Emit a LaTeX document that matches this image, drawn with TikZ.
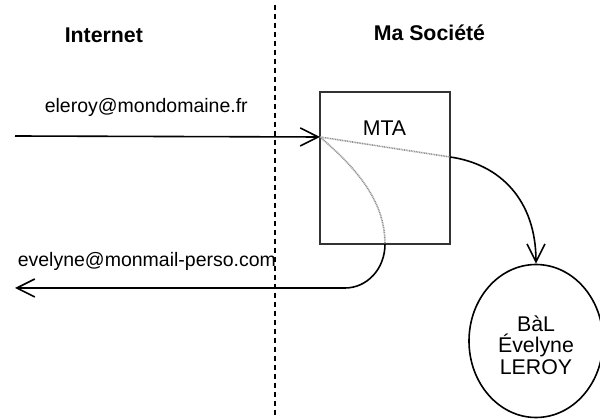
\documentclass[tikz,border=0pt]{standalone}
\usepackage{fontspec}
\setmainfont{Liberation Sans}
\usetikzlibrary{arrows.meta,shapes.geometric}
\begin{document}
\begin{tikzpicture}[x=1pt,y=-1pt,line width=1.6pt,
  head/.style={font=\fontsize{21.3}{25}\selectfont\bfseries,inner sep=0,anchor=base west},
  addr/.style={font=\fontsize{19.5}{23}\selectfont,inner sep=0,anchor=base west},
  body/.style={font=\fontsize{21.3}{21.3}\selectfont,inner sep=0},
  tip/.style={-{Straight Barb[length=18pt,width=18pt]}},
  ghost/.style={draw=gray!85,dash pattern=on 1pt off 0.7pt},
  boxstyle/.style={draw=black!80,rectangle,minimum width=130pt,minimum height=152pt,inner sep=0},
  ellstyle/.style={draw=black,ellipse,minimum width=134pt,minimum height=153pt,inner sep=0},
  border/.style={dash pattern=on 5pt off 4pt,line width=1.8pt}]
\useasboundingbox (0,0) rectangle (600,419);
% headings
\node[head] (internet) at (64,43) {Internet};
\node[head] (societe) at (373,41) {Ma Société};
% border line
\coordinate (btop) at (275,5);
\coordinate (bbot) at (275,419);
\draw[border] (btop) -- (bbot);
% MTA box
\node[boxstyle] (mta) at (385,168) {};
\node[body,anchor=base] (mtalabel) at (384.5,136) {MTA};
% mailbox
\node[ellstyle] (bal) at (536,341) {};
\node[body,align=center] (baltext) at (536,345) {BàL\\Évelyne\\LEROY};
% addresses
\node[addr] (inaddr) at (44,113) {eleroy@mondomaine.fr};
\node[addr] (outaddr) at (17,267) {evelyne@monmail-perso.com};
% connector points
\coordinate (instart) at (15,136);
\coordinate (mtain) at (320,137);
\coordinate (mtaout) at (450,157);
\coordinate (mtabot) at (385,244);
\coordinate (turn) at (345,288);
\coordinate (outend) at (15,288);
% incoming mail
\draw[tip] (instart) -- (mtain);
\draw[ghost] (mtain) -- (mtaout);
\draw[tip] (mtaout) .. controls (500,164) and (536,200) .. (bal.north);
% forwarded mail
\draw[ghost] (mtain) .. controls (355,167) and (385,200) .. (mtabot);
\draw[tip] (mtabot) .. controls (385,269) and (367,288) .. (turn) -- (outend);
\end{tikzpicture}
\end{document}
